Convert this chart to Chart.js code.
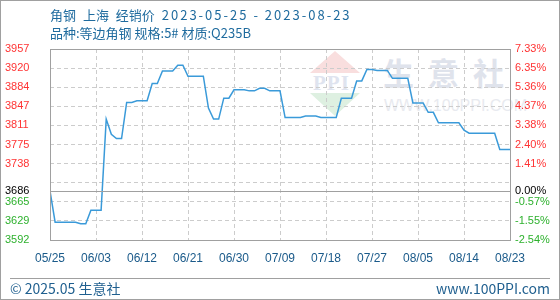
<!DOCTYPE html>
<html>
<head>
<meta charset="utf-8">
<script src="https://cdn.jsdelivr.net/npm/chart.js@4"></script>
<style>
  html, body { margin: 0; padding: 0; background: #fff; }
  #wrap { position: relative; width: 560px; height: 300px; overflow: hidden; font-family: "Noto Sans CJK SC", "Liberation Sans", sans-serif; }
  #c { position: absolute; left: 0; top: 0; z-index: 2; }
  .frame { position: absolute; inset: 0; border: 1px solid #a0a0a0; z-index: 3; pointer-events: none; }
  .t { position: absolute; left: 50px; font-size: 13px; line-height: 18px; color: #1f6b9e; white-space: nowrap; z-index: 3; }
  .t1 { word-spacing: 4px; }
  .t1 span { letter-spacing: 2px; word-spacing: 0; }
  .sep { position: absolute; left: 10px; width: 540px; top: 278px; border-top: 1px solid #a0a0a0; z-index: 3; }
  .foot { position: absolute; top: 279px; font-size: 14px; line-height: 18px; color: #1f5f8f; white-space: nowrap; z-index: 3; }
  .wm { position: absolute; z-index: 1; white-space: nowrap; }
</style>
</head>
<body>
<div id="wrap">
  <div class="wm" style="left:310px;top:51px;width:50px;height:22px;background:#f9dede;clip-path:polygon(50% 0,100% 100%,0 100%);"></div>
  <div class="wm" style="left:313px;top:71px;font:bold 21px 'Liberation Serif',serif;color:#dfe4ef;letter-spacing:1px;">PPI</div>
  <div class="wm" style="left:310px;top:93px;width:50px;height:23px;background:#def0e1;clip-path:polygon(0 0,100% 0,50% 100%);"></div>
  <div class="wm" style="left:383px;top:49px;font:bold 31px 'Noto Sans CJK SC',sans-serif;color:#dfe3ec;letter-spacing:14px;">生意社</div>
  <div class="wm" style="left:384px;top:97px;font:16px 'Liberation Sans',sans-serif;color:#e8eaef;">WWW.100PPI.COM</div>
  <canvas id="c" width="560" height="300"></canvas>
  <div class="t t1" style="top:6px;">角钢 上海 经销价 <span>2023-05-25 - 2023-08-23</span></div>
  <div class="t" style="top:24px;">品种:等边角钢 规格:5# 材质:Q235B</div>
  <div class="sep"></div>
  <div class="foot" style="left:10px;">© 2025.05 生意社</div>
  <div class="foot" style="right:10px;">www.100PPI.com</div>
  <div class="frame"></div>
</div>
<script>
// daily price, 2023-05-25 .. 2023-08-23
const price = [
  3686, 3626, 3626, 3626, 3626, 3626, 3623, 3623, 3649, 3649,
  3649, 3823, 3794, 3786, 3786, 3855, 3855, 3858, 3858, 3858,
  3891, 3891, 3915, 3915, 3915, 3926, 3926, 3905, 3905, 3905,
  3905, 3844, 3823, 3823, 3863, 3863, 3879, 3879, 3879, 3877,
  3877, 3882, 3882, 3877, 3877, 3877, 3826, 3826, 3826, 3826,
  3829, 3829, 3829, 3826, 3826, 3826, 3826, 3863, 3863, 3863,
  3896, 3896, 3918, 3918, 3916, 3916, 3916, 3901, 3901, 3901,
  3901, 3854, 3854, 3854, 3836, 3836, 3816, 3816, 3816, 3816,
  3816, 3802, 3796, 3796, 3796, 3796, 3796, 3796, 3765, 3765,
  3765,
];
const xLabels = ["05/25", "06/03", "06/12", "06/21", "06/30", "07/09", "07/18", "07/27", "08/05", "08/14", "08/23"];
const base = 3686;
const yTicks = [3592, 3628.5, 3665, 3701.5, 3738, 3774.5, 3811, 3847.5, 3884, 3920.5, 3957];
const yLabels = ["3592", "3629", "3665", "", "3738", "3775", "3811", "3847", "3884", "3920", "3957"];
const pctLabels = ["-2.54%", "-1.55%", "-0.57%", "", "1.41%", "2.40%", "3.38%", "4.37%", "5.36%", "6.35%", "7.33%"];

const C = {
  line:  "#3a9ad9",
  grid:  "#cccccc",
  frame: "#a0a0a0",
  up:    "#ff3333",
  down:  "#2eb12e",
  zero:  "#000000",
  xtext: "#1a5a8a",
};

const tickColor = ctx => ctx.tick.value > base ? C.up : ctx.tick.value < base ? C.down : C.zero;
const setYTicks = s => { s.ticks = yTicks.map(v => ({ value: v })).concat({ value: base }); };
const labelFor = (labels, baseLabel) => v => {
  if (v === base) return baseLabel;
  const i = yTicks.indexOf(v);
  return i < 0 ? "" : labels[i];
};

const frame = {
  id: "frame",
  afterDraw(chart) {
    const { ctx, chartArea: a, scales } = chart;
    ctx.save();
    ctx.strokeStyle = C.frame;
    ctx.lineWidth = 1;
    const y0 = Math.round(scales.y.getPixelForValue(base)) + 0.5;
    ctx.beginPath();
    ctx.moveTo(a.left, y0);
    ctx.lineTo(a.right, y0);
    ctx.stroke();
    ctx.strokeRect(Math.round(a.left) + 0.5, Math.round(a.top) + 0.5, Math.round(a.right - a.left), Math.round(a.bottom - a.top));
    ctx.restore();
  },
};

new Chart(document.getElementById("c"), {
  type: "line",
  data: {
    datasets: [{
      data: price.map((v, i) => ({ x: i, y: v })),
      borderColor: C.line,
      borderWidth: 1.5,
      pointRadius: 0,
      tension: 0,
      fill: false,
    }],
  },
  options: {
    responsive: false,
    animation: false,
    layout: { padding: { top: 49, left: 5, right: 0, bottom: 0 } },
    plugins: { legend: { display: false }, tooltip: { enabled: false } },
    scales: {
      x: {
        type: "linear",
        min: 0,
        max: price.length - 1,
        afterBuildTicks: s => { s.ticks = xLabels.map((_, i) => ({ value: i * 9 })); },
        afterFit: s => { s.height = 60; },
        ticks: {
          callback: v => xLabels[v / 9],
          color: C.xtext,
          font: { family: "Liberation Sans", size: 12 },
          padding: 11,
          maxRotation: 0,
          autoSkip: false,
        },
        grid: { color: C.grid, drawTicks: false },
        border: { display: false, dash: [4, 3] },
      },
      y: {
        position: "left",
        min: yTicks[0],
        max: yTicks[yTicks.length - 1],
        afterBuildTicks: setYTicks,
        afterFit: s => { s.width = 45; },
        ticks: {
          callback: labelFor(yLabels, String(base)),
          color: tickColor,
          crossAlign: "far",
          font: { family: "Liberation Sans", size: 11 },
          autoSkip: false,
        },
        grid: { color: ctx => ctx.tick && ctx.tick.value === base ? "rgba(0,0,0,0)" : C.grid, drawTicks: false },
        border: { display: false, dash: [4, 3] },
      },
      y2: {
        position: "right",
        min: yTicks[0],
        max: yTicks[yTicks.length - 1],
        afterBuildTicks: setYTicks,
        afterFit: s => { s.width = 50; },
        ticks: {
          callback: labelFor(pctLabels, "0.00%"),
          color: tickColor,
          padding: 5,
          font: { family: "Liberation Sans", size: 11 },
          autoSkip: false,
        },
        grid: { display: false, drawTicks: false },
        border: { display: false },
      },
    },
  },
  plugins: [frame],
});
</script>
</body>
</html>
